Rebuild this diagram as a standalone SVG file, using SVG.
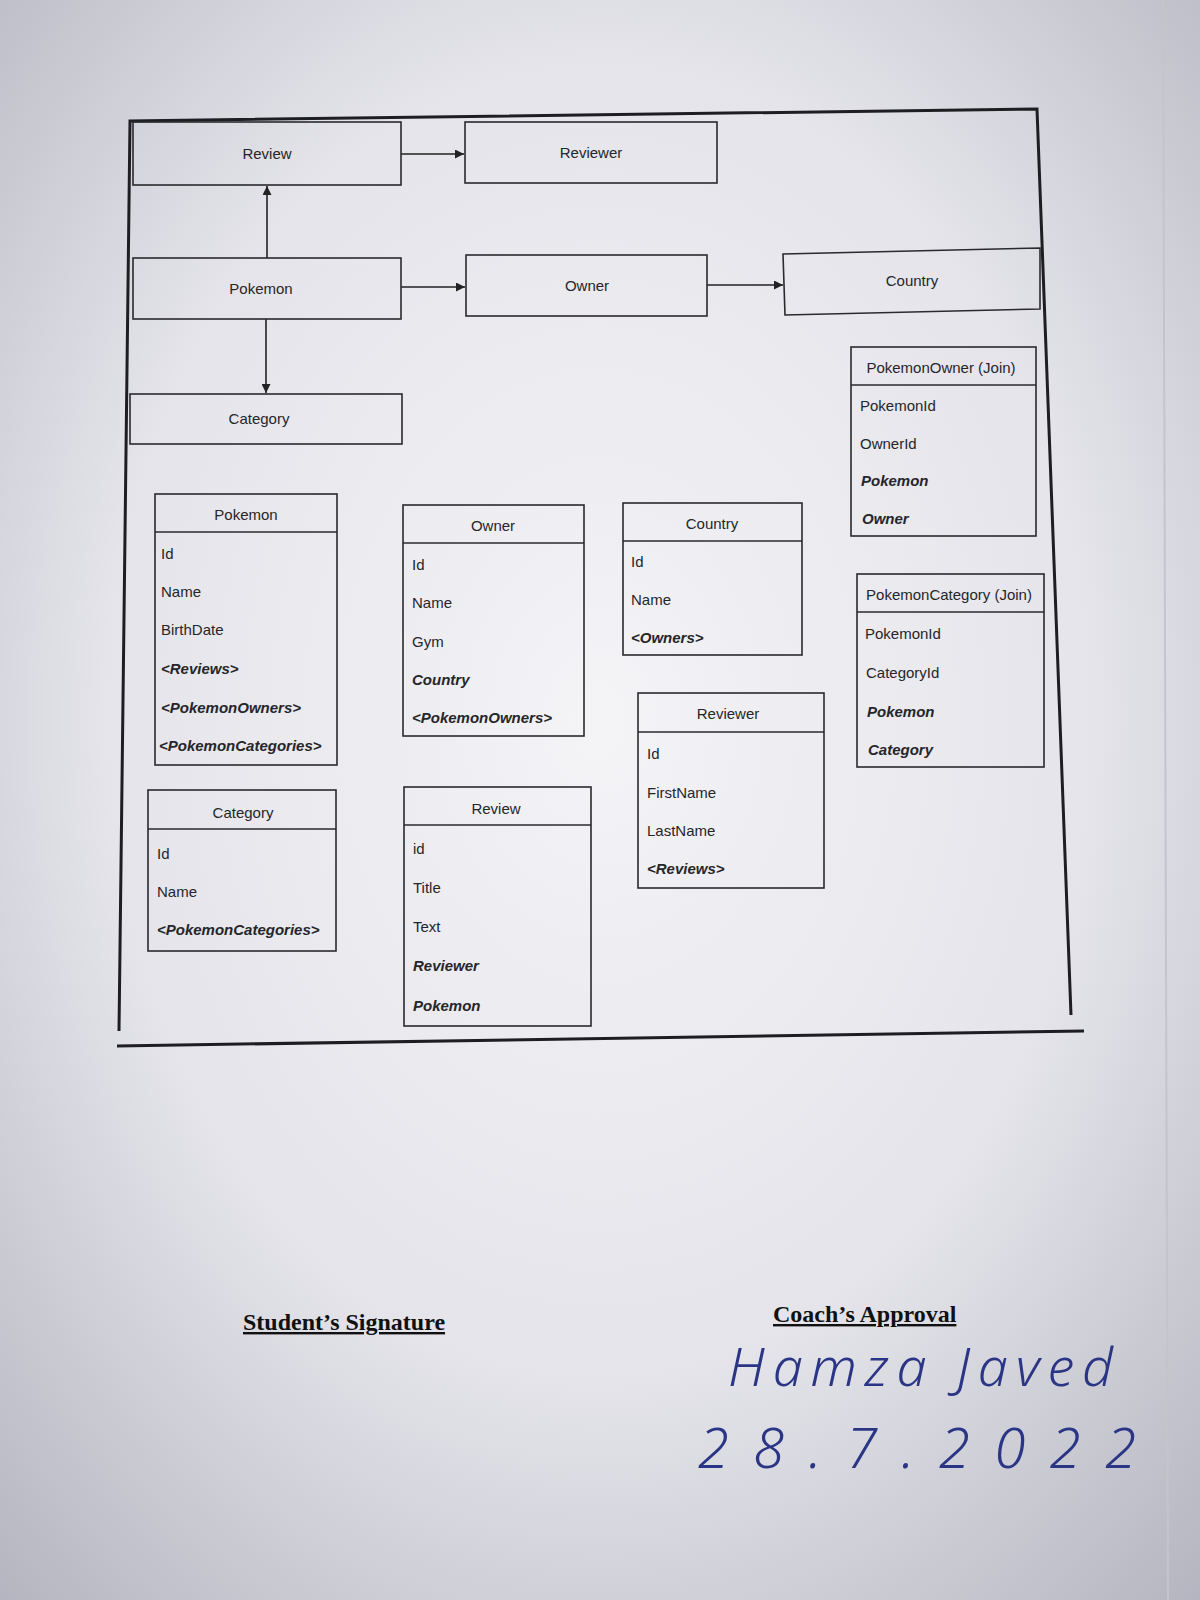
<svg xmlns="http://www.w3.org/2000/svg" width="1200" height="1600" viewBox="0 0 1200 1600">
<defs>
<radialGradient id="paper" cx="0.5" cy="0.45" r="0.75">
<stop offset="0" stop-color="#f4f4f7"/>
<stop offset="0.55" stop-color="#e4e4ea"/>
<stop offset="1" stop-color="#b4b4c0"/>
</radialGradient>
<marker id="arr" viewBox="0 0 10 10" refX="10" refY="5" markerWidth="9" markerHeight="9" markerUnits="userSpaceOnUse" orient="auto">
<path d="M0,0 L10,5 L0,10 z" fill="#222"/>
</marker>
<style>
.box{fill:none;stroke:#2a2a2e;stroke-width:1.6}
.frame{fill:none;stroke:#1e1e22;stroke-width:3}
.t{font-family:"Liberation Sans",Arial,sans-serif;font-size:15px;fill:#26262a;dominant-baseline:central}
.c{text-anchor:middle}
.n{font-weight:bold;font-style:italic}
.con{stroke:#222;stroke-width:1.6;fill:none;marker-end:url(#arr)}
.sig{font-family:"Liberation Serif","Times New Roman",serif;font-weight:bold;font-size:24px;fill:#111;text-decoration:underline}
.hand{font-family:"Noto Sans","DejaVu Sans",sans-serif;font-style:italic;font-weight:300;fill:#2b3585}
</style>
</defs>
<rect x="0" y="0" width="1200" height="1600" fill="url(#paper)"/>
<line x1="1163" y1="0" x2="1168" y2="1600" stroke="#c4c4cc" stroke-width="2"/>

<g id="frame">
<path class="frame" d="M119,1031 L130,121 L1037,109 L1071,1015"/>
<line class="frame" x1="117" y1="1046" x2="1084" y2="1031" stroke-width="2.5"/>
</g>

<g id="connectors">
<line class="con" x1="401" y1="154" x2="464" y2="154"/>
<line class="con" x1="267" y1="258" x2="267" y2="186"/>
<line class="con" x1="401" y1="287" x2="465" y2="287"/>
<line class="con" x1="707" y1="285" x2="783" y2="285"/>
<line class="con" x1="266" y1="319" x2="266" y2="393"/>
</g>

<g id="top-review"><rect class="box" x="133" y="122" width="268" height="63"/><text class="t c" x="267" y="153">Review</text></g>
<g id="top-reviewer"><rect class="box" x="465" y="122" width="252" height="61"/><text class="t c" x="591" y="152">Reviewer</text></g>
<g id="top-pokemon"><rect class="box" x="133" y="258" width="268" height="61"/><text class="t c" x="261" y="288">Pokemon</text></g>
<g id="top-owner"><rect class="box" x="466" y="255" width="241" height="61"/><text class="t c" x="587" y="285">Owner</text></g>
<g id="top-country"><polygon class="box" points="783,254 1040,248 1040,309 785,315"/><text class="t c" x="912" y="280">Country</text></g>
<g id="top-category"><rect class="box" x="130" y="394" width="272" height="50"/><text class="t c" x="259" y="418">Category</text></g>

<g id="entity-pokemon">
<rect class="box" x="155" y="494" width="182" height="271"/><line class="box" x1="155" y1="532" x2="337" y2="532"/>
<text class="t c" x="246" y="514">Pokemon</text>
<text class="t" x="161" y="553">Id</text>
<text class="t" x="161" y="591">Name</text>
<text class="t" x="161" y="629">BirthDate</text>
<text class="t n" x="161" y="668">&lt;Reviews&gt;</text>
<text class="t n" x="161" y="707">&lt;PokemonOwners&gt;</text>
<text class="t n" x="159" y="745">&lt;PokemonCategories&gt;</text>
</g>

<g id="entity-owner">
<rect class="box" x="403" y="505" width="181" height="231"/><line class="box" x1="403" y1="543" x2="584" y2="543"/>
<text class="t c" x="493" y="525">Owner</text>
<text class="t" x="412" y="564">Id</text>
<text class="t" x="412" y="602">Name</text>
<text class="t" x="412" y="641">Gym</text>
<text class="t n" x="412" y="679">Country</text>
<text class="t n" x="412" y="717">&lt;PokemonOwners&gt;</text>
</g>

<g id="entity-country">
<rect class="box" x="623" y="503" width="179" height="152"/><line class="box" x1="623" y1="541" x2="802" y2="541"/>
<text class="t c" x="712" y="523">Country</text>
<text class="t" x="631" y="561">Id</text>
<text class="t" x="631" y="599">Name</text>
<text class="t n" x="631" y="637">&lt;Owners&gt;</text>
</g>

<g id="entity-reviewer">
<rect class="box" x="638" y="693" width="186" height="195"/><line class="box" x1="638" y1="732" x2="824" y2="732"/>
<text class="t c" x="728" y="713">Reviewer</text>
<text class="t" x="647" y="753">Id</text>
<text class="t" x="647" y="792">FirstName</text>
<text class="t" x="647" y="830">LastName</text>
<text class="t n" x="647" y="868">&lt;Reviews&gt;</text>
</g>

<g id="entity-pokemonowner">
<rect class="box" x="851" y="347" width="185" height="189"/><line class="box" x1="851" y1="385" x2="1036" y2="385"/>
<text class="t c" x="941" y="367">PokemonOwner (Join)</text>
<text class="t" x="860" y="405">PokemonId</text>
<text class="t" x="860" y="443">OwnerId</text>
<text class="t n" x="861" y="480">Pokemon</text>
<text class="t n" x="862" y="518">Owner</text>
</g>

<g id="entity-pokemoncategory">
<rect class="box" x="857" y="574" width="187" height="193"/><line class="box" x1="857" y1="612" x2="1044" y2="612"/>
<text class="t c" x="949" y="594">PokemonCategory (Join)</text>
<text class="t" x="865" y="633">PokemonId</text>
<text class="t" x="866" y="672">CategoryId</text>
<text class="t n" x="867" y="711">Pokemon</text>
<text class="t n" x="868" y="749">Category</text>
</g>

<g id="entity-category">
<rect class="box" x="148" y="790" width="188" height="161"/><line class="box" x1="148" y1="829" x2="336" y2="829"/>
<text class="t c" x="243" y="812">Category</text>
<text class="t" x="157" y="853">Id</text>
<text class="t" x="157" y="891">Name</text>
<text class="t n" x="157" y="929">&lt;PokemonCategories&gt;</text>
</g>

<g id="entity-review">
<rect class="box" x="404" y="787" width="187" height="239"/><line class="box" x1="404" y1="825" x2="591" y2="825"/>
<text class="t c" x="496" y="808">Review</text>
<text class="t" x="413" y="848">id</text>
<text class="t" x="413" y="887">Title</text>
<text class="t" x="413" y="926">Text</text>
<text class="t n" x="413" y="965">Reviewer</text>
<text class="t n" x="413" y="1005">Pokemon</text>
</g>

<g id="signatures">
<text class="sig" x="243" y="1330">Student’s Signature</text>
<text class="sig" x="773" y="1322">Coach’s Approval</text>
<text class="hand" x="728" y="1386" font-size="54" textLength="385" lengthAdjust="spacing">Hamza Javed</text>
<text class="hand" x="698" y="1468" font-size="56" textLength="438" lengthAdjust="spacing">28.7.2022</text>
</g>
</svg>
